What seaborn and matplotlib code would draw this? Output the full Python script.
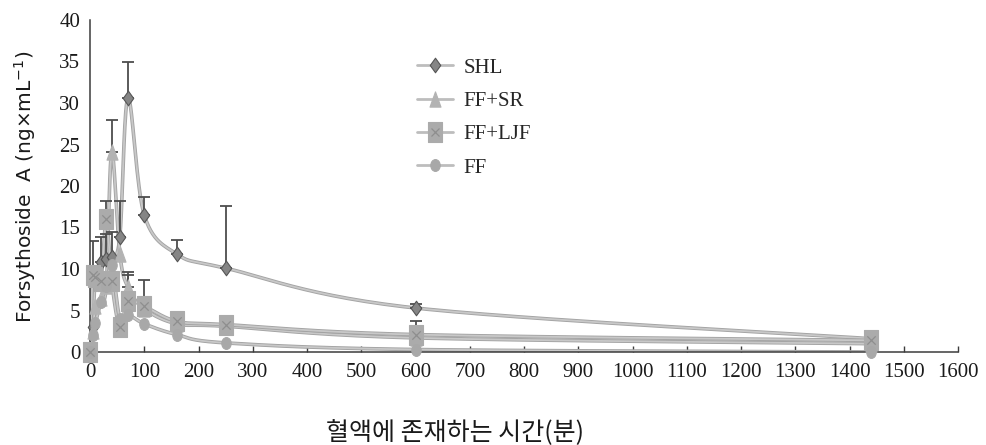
import numpy as np
import matplotlib
matplotlib.use("Agg")
import matplotlib.pyplot as plt
import seaborn as sns
from matplotlib.path import Path
from matplotlib.lines import Line2D
from matplotlib.legend_handler import HandlerTuple
import matplotlib.patheffects as pe

# Sampling times (min) and plasma concentrations (ng/mL)
times = [0, 5, 10, 20, 30, 40, 55, 70, 100, 160, 250, 600, 1440]

shl = [0, 3.0, 9.0, 10.8, 11.2, 11.4, 13.9, 30.6, 16.5, 11.8, 10.1, 5.3, 1.6]
shl_err = [0, 0, 0, 3.0, 3.0, 3.0, 4.3, 4.4, 2.2, 1.7, 7.5, 0.5, 0]

ff_sr = [0, 2.5, 5.5, 6.5, 8.0, 24.1, 11.8, 7.8, 5.2, 3.4, 3.1, 1.7, 1.0]
ff_sr_err = [0, 0, 0, 0, 0, 3.8, 0, 1.8, 0, 0, 0, 0, 0]

ff_ljf = [0, 9.3, 9.0, 8.5, 16.0, 8.5, 3.0, 6.1, 5.5, 3.7, 3.3, 2.1, 1.4]
ff_ljf_err = [0, 4.1, 0, 0, 2.2, 0, 0, 3.2, 3.2, 0, 0, 1.6, 0]

ff = [0, 2.0, 3.5, 6.0, 8.0, 10.5, 4.0, 4.5, 3.4, 2.1, 1.1, 0.3, 0.0]
ff_err = [0, 0, 0, 0, 0, 0, 0, 0, 0, 0, 0, 0, 0]

series_names = ["SHL", "FF+SR", "FF+LJF", "FF"]
x_ticks = list(range(0, 1601, 100))
y_ticks = list(range(0, 41, 5))

# Marker shapes
diamond = Path([(0, -0.5), (0.36, 0), (0, 0.5), (-0.36, 0), (0, -0.5)],
               [Path.MOVETO, Path.LINETO, Path.LINETO, Path.LINETO, Path.CLOSEPOLY])
triangle = Path([(0, 0.5), (0.36, -0.5), (-0.36, -0.5), (0, 0.5)],
                [Path.MOVETO, Path.LINETO, Path.LINETO, Path.CLOSEPOLY])
rect = Path([(-0.33, -0.5), (0.33, -0.5), (0.33, 0.5), (-0.33, 0.5), (-0.33, -0.5)],
            [Path.MOVETO, Path.LINETO, Path.LINETO, Path.LINETO, Path.CLOSEPOLY])
circ = Path.unit_circle()
oval = Path(circ.vertices * np.array([0.8, 1.0]), circ.codes)

sns.set_theme(style="white")
plt.rcParams["font.family"] = ["Liberation Serif", "DejaVu Serif"]
plt.rcParams["mathtext.fontset"] = "dejavusans"

fig = plt.figure(figsize=(9.86, 4.45), dpi=100)
ax = fig.add_axes([90 / 986, 93 / 445, 868 / 986, 332 / 445])
ax.set_xlim(0, 1600)
ax.set_ylim(0, 40)


def smooth_line(ax, x, y, steps=30):
    """Smoothed connecting line (cubic Bezier through every point, in display space)."""
    p = ax.transData.transform(np.column_stack([x, y]).astype(float))
    ext = np.vstack([p[0], p, p[-1]])
    out = []
    t = np.linspace(0, 1, steps)[:, None]
    for i in range(len(p) - 1):
        p0, p1 = ext[i + 1], ext[i + 2]
        c1 = p0 + (ext[i + 2] - ext[i]) / 6.0
        c2 = p1 - (ext[i + 3] - ext[i + 1]) / 6.0
        seg = ((1 - t) ** 3) * p0 + 3 * ((1 - t) ** 2) * t * c1 + 3 * (1 - t) * t ** 2 * c2 + t ** 3 * p1
        out.append(seg)
    curve = np.vstack(out)
    return ax.transData.inverted().transform(curve)


line_fx = [pe.Stroke(linewidth=2.6, foreground="#a3a3a3"), pe.Normal()]

styles = {
    "SHL": dict(vals=shl, err=shl_err, marker=diamond, size=10.5, face="#858585", edge="#555555"),
    "FF+SR": dict(vals=ff_sr, err=ff_sr_err, marker=triangle, size=11, face="#b3b3b3", edge="#b3b3b3"),
    "FF+LJF": dict(vals=ff_ljf, err=ff_ljf_err, marker=rect, size=15, face="#ababab", edge="#ababab"),
    "FF": dict(vals=ff, err=ff_err, marker=oval, size=8.5, face="#a8a8a8", edge="#a8a8a8"),
}

for name in series_names:
    st = styles[name]
    curve = smooth_line(ax, times, st["vals"])
    ax.plot(curve[:, 0], curve[:, 1], color="#c8c8c8", lw=1.3, zorder=2,
            path_effects=line_fx, solid_capstyle="round")

for name in series_names:
    st = styles[name]
    xs = np.array(times, float)
    ys = np.array(st["vals"], float)
    es = np.array(st["err"], float)
    m = es > 0
    if m.any():
        ax.errorbar(xs[m], ys[m], yerr=[np.zeros(m.sum()), es[m]], fmt="none",
                    ecolor="#4d4d4d", elinewidth=1.3, capsize=4.5, capthick=1.3, zorder=2.5)

for k, name in enumerate(series_names):
    st = styles[name]
    sns.scatterplot(x=times, y=st["vals"], marker=st["marker"], s=st["size"] ** 2,
                    color=st["face"], edgecolor=st["edge"], linewidth=0.8,
                    ax=ax, zorder=3 + k * 0.1, clip_on=False, legend=False)
    if name == "FF+LJF":
        sns.scatterplot(x=times, y=st["vals"], marker="x", s=36, color="#8e8e8e",
                        linewidth=0.9, ax=ax, zorder=3.35, clip_on=False, legend=False)

# Axes styling
for s in ["top", "right"]:
    ax.spines[s].set_visible(False)
for s in ["left", "bottom"]:
    ax.spines[s].set_color("#3c3c3c")
    ax.spines[s].set_linewidth(1.1)
ax.set_xticks(x_ticks)
ax.set_yticks(y_ticks)
ax.tick_params(axis="x", direction="in", length=4, width=1, color="#3c3c3c",
               labelsize=15, pad=8, labelcolor="#1a1a1a", bottom=True)
ax.tick_params(axis="y", length=0, labelsize=15, pad=7, labelcolor="#1a1a1a", left=True)
for lab in ax.get_xticklabels() + ax.get_yticklabels():
    lab.set_family(["Liberation Serif", "DejaVu Serif"])
ax.grid(False)

fig.text(25 / 986, 1 - 187 / 445, r"Forsythoside  A (ng$\times$mL$^{-1}$)", rotation=90,
         ha="center", va="center", fontsize=14.5, family=["DejaVu Sans"], color="#1a1a1a")
fig.text(455 / 986, 1 - 433 / 445, "혈액에 존재하는 시간(분)", ha="center", va="center",
         fontsize=18, family=["Noto Sans CJK KR", "DejaVu Sans"], color="#1a1a1a")

# Legend
handles = []
for name in series_names:
    st = styles[name]
    h = Line2D([], [], color="#bdbdbd", lw=2.0, marker=st["marker"], markersize=st["size"],
               markerfacecolor=st["face"], markeredgecolor=st["edge"], markeredgewidth=0.8)
    if name == "FF+LJF":
        hx = Line2D([], [], ls="none", marker="x", markersize=6, markeredgecolor="#8e8e8e",
                    markeredgewidth=0.9)
        handles.append((h, hx))
    else:
        handles.append(h)

fig.legend(handles, series_names, loc="upper left",
           bbox_to_anchor=(417 / 986, 1 - 58 / 445), frameon=False, fontsize=15,
           handlelength=1.75, handletextpad=0.5, labelspacing=0.66, borderpad=0,
           borderaxespad=0, handler_map={tuple: HandlerTuple(ndivide=1)})

fig.savefig("out.png", dpi=100)
